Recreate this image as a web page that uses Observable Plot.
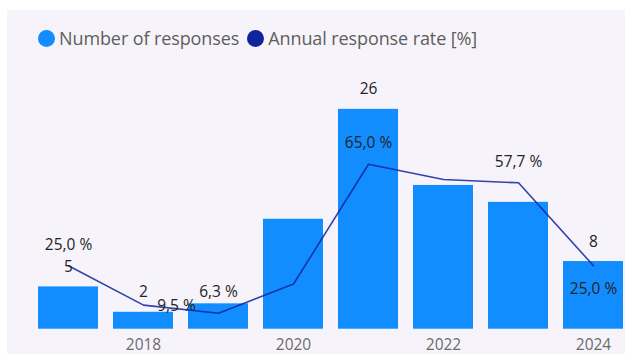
<!DOCTYPE html>
<html>
<head>
<meta charset="utf-8">
<script src="https://cdn.jsdelivr.net/npm/d3@7"></script>
<script src="https://cdn.jsdelivr.net/npm/@observablehq/plot@0.6"></script>
<style>
  html, body { margin: 0; padding: 0; background: #ffffff; width: 625px; height: 354px; overflow: hidden; }
  #bg { position: absolute; left: 7px; top: 10px; width: 618px; height: 344px; background: #f6f4fa; }
  #legend { position: absolute; left: 38px; top: 26px; display: flex; align-items: center; font-family: "Open Sans", sans-serif; font-size: 18px; letter-spacing: -0.1px; color: #605e5c; white-space: nowrap; }
  #legend .sw { width: 17px; height: 17px; border-radius: 50%; display: inline-block; margin-right: 4px; }
  #legend .item { display: flex; align-items: center; margin-right: 8px; }
  #chart { position: absolute; left: 0; top: 50px; }
</style>
</head>
<body>
<div id="bg"></div>
<div id="legend"></div>
<div id="chart"></div>
<script>
// ---- data ----
const years = [2017, 2018, 2019, 2020, 2021, 2022, 2023, 2024];
const responses = [5, 2, 3, 13, 26, 17, 15, 8];
const responseRate = [25.0, 9.5, 6.3, 17.8, 65.0, 59.0, 57.7, 25.0];
const tickYears = [2018, 2020, 2022, 2024];
const seriesNames = ["Number of responses", "Annual response rate [%]"];
const shownCountLabels = [2017, 2018, 2021, 2024];
const shownRateLabels = [2017, 2018, 2019, 2021, 2023, 2024];

// ---- styles ----
const barColor = "#118DFF";
const lineColor = "#12239E";
const fontFamily = "'Open Sans', sans-serif";

// legend
const legend = document.getElementById("legend");
[barColor, lineColor].forEach((c, i) => {
  const item = document.createElement("span");
  item.className = "item";
  item.innerHTML = `<span class="sw" style="background:${c}"></span><span>${seriesNames[i]}</span>`;
  legend.appendChild(item);
});

const table = years.map((y, i) => ({year: y, count: responses[i], rate: responseRate[i]}));
const rateToY = d3.scaleLinear([0, 100], [0, 30]);
const fmtRate = v => v.toFixed(1).replace(".", ",") + " %";

// label placement around the line point
const placement = {2018: {dx: 33, dy: 1}, 2024: {dx: 0, dy: 23}};
const rateLabels = table.filter(d => shownRateLabels.includes(d.year));
const rateLabelMarks = rateLabels.map(d => {
  const p = placement[d.year] || {dx: 0, dy: -21};
  return Plot.text([d], {x: "year", y: d => rateToY(d.rate), text: d => fmtRate(d.rate),
    dx: p.dx, dy: p.dy, fill: "#252423", fontSize: 15.5, fontFamily});
});

const chart = Plot.plot({
  width: 625,
  height: 304,
  marginTop: 25,
  marginBottom: 25.3,
  marginLeft: 37.7,
  marginRight: 1.7,
  style: {background: "transparent", fontFamily},
  x: {type: "band", domain: years, paddingInner: 0.2, paddingOuter: 0, label: null},
  y: {domain: [0, 30], axis: null},
  marks: [
    Plot.barY(table, {x: "year", y: "count", fill: barColor}),
    Plot.axisX({ticks: tickYears, tickSize: 0, tickPadding: 10, fill: "#6b6b6b", fontSize: 15.5, fontFamily, tickFormat: d => String(d)}),
    Plot.line(table, {x: "year", y: d => rateToY(d.rate), stroke: lineColor, strokeWidth: 1.6, strokeOpacity: 0.85}),
    Plot.text(table.filter(d => shownCountLabels.includes(d.year)), {x: "year", y: "count", text: d => String(d.count), dy: -20, fill: "#252423", fontSize: 15.5, fontFamily}),
    ...rateLabelMarks
  ]
});
document.getElementById("chart").appendChild(chart);
</script>
</body>
</html>
